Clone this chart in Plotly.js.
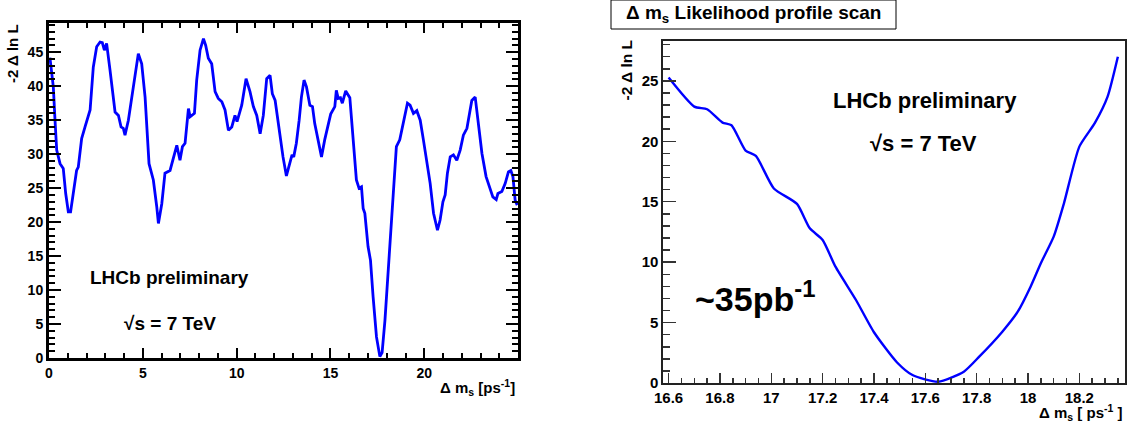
<!DOCTYPE html>
<html>
<head>
<meta charset="utf-8">
<script src="https://cdn.plot.ly/plotly-3.0.1.min.js"></script>
<style>html,body{margin:0;padding:0;background:#fff;}#plot{width:1129px;height:427px;}</style>
</head>
<body>
<div id="plot"></div>
<script>
// Left panel: full Delta m_s scan
const dmsLeft = [0.05,0.23,0.32,0.41,0.59,0.76,0.89,1.03,1.15,1.30,1.47,1.56,1.74,1.92,2.10,2.19,2.36,2.54,2.72,2.84,2.95,3.07,3.25,3.52,3.70,3.84,3.96,4.05,4.23,4.41,4.58,4.76,4.94,5.12,5.33,5.56,5.74,5.83,6.01,6.18,6.45,6.63,6.81,6.98,7.11,7.25,7.43,7.52,7.75,7.87,8.05,8.23,8.35,8.49,8.67,8.85,9.02,9.21,9.38,9.56,9.74,9.91,10.02,10.27,10.50,10.71,10.89,11.07,11.25,11.42,11.60,11.78,11.90,12.05,12.31,12.47,12.65,12.83,12.95,13.04,13.18,13.33,13.45,13.59,13.72,13.90,14.04,14.16,14.34,14.52,14.69,14.87,15.01,15.23,15.31,15.41,15.53,15.63,15.81,16.03,16.20,16.38,16.52,16.65,16.74,16.83,17.00,17.13,17.27,17.45,17.63,17.75,17.90,18.05,18.20,18.34,18.45,18.51,18.69,18.91,19.10,19.24,19.42,19.60,19.78,19.95,20.13,20.31,20.49,20.70,20.84,20.99,21.11,21.23,21.38,21.55,21.73,21.91,22.08,22.27,22.44,22.53,22.71,22.88,23.07,23.29,23.47,23.65,23.83,23.92,24.13,24.31,24.48,24.61,24.72,24.84,24.95];
const nllLeft = [44.2,39.9,35.0,30.6,28.6,27.9,24.2,21.5,21.5,24.7,27.6,28.1,32.3,34.0,35.5,36.5,42.8,45.8,46.5,46.4,45.3,46.3,42.4,36.2,35.7,34.0,33.8,32.8,35.0,38.4,41.4,44.8,43.3,38.4,28.6,26.2,22.3,19.8,22.7,27.2,27.6,29.6,31.3,29.1,31.1,31.6,36.7,35.5,36.0,40.9,45.3,47.0,46.0,44.1,43.3,39.2,38.2,37.7,36.5,33.5,34.0,35.7,34.8,37.2,41.1,39.2,37.0,35.7,33.0,35.7,41.1,41.6,38.9,37.9,32.5,29.6,26.8,28.6,29.9,29.6,31.6,35.0,38.4,40.9,39.9,37.2,37.0,34.5,31.8,29.6,32.1,34.0,35.9,37.0,39.4,38.2,38.3,37.5,39.3,38.3,32.5,26.2,25.0,25.2,22.0,21.3,16.4,14.4,9.0,3.1,0.2,0.8,5.5,12.0,18.5,24.2,28.0,31.1,32.1,35.0,37.5,37.2,36.0,36.4,35.0,32.1,29.1,25.7,21.3,18.8,20.3,23.0,24.0,27.2,29.6,29.9,29.1,30.6,32.8,33.8,36.5,37.9,38.4,34.5,30.1,26.7,25.2,23.7,23.3,24.2,24.5,25.7,27.4,27.6,26.7,23.2,22.5];

// Right panel: zoom around the minimum
const dmsRight = [16.60,16.70,16.75,16.81,16.845,16.90,16.94,17.01,17.10,17.15,17.20,17.25,17.33,17.40,17.49,17.55,17.65,17.75,17.81,17.90,17.96,18.01,18.05,18.10,18.14,18.20,18.26,18.31,18.35];
const nllRight = [25.27,22.87,22.65,21.55,21.33,19.23,18.79,16.1,14.82,12.8,11.84,9.63,6.87,4.2,1.7,0.66,0.11,0.94,2.18,4.25,5.9,7.97,9.91,12.11,14.87,19.56,21.5,23.7,27.0];

const yTitle = '-2 \u0394 ln L';
const xTitleLeft = '\u0394 m<sub>s</sub> [ps<sup>-1</sup>]';
const xTitleRight = '\u0394 m<sub>s</sub> [ ps<sup>-1</sup> ]';
const panelTitle = '\u0394 m<sub>s</sub> Likelihood profile scan';
const labelExp = 'LHCb preliminary';
const labelEnergy = '\u221As = 7 TeV';
const labelLumi = '~35pb<sup>-1</sup>';

const FONT = 'Liberation Sans, Arial, Helvetica, sans-serif';

const traces = [
  {x: dmsLeft, y: nllLeft, xaxis:'x', yaxis:'y', type:'scatter', mode:'lines',
   line:{color:'#0000ff', width:2.8}, hoverinfo:'skip'},
  {x: dmsRight, y: nllRight, xaxis:'x2', yaxis:'y2', type:'scatter', mode:'lines',
   line:{color:'#0000ff', width:2.4, shape:'spline', smoothing:0.6}, hoverinfo:'skip'}
];

function ax(extra){
  return Object.assign({
    showgrid:false, zeroline:false, showline:true, linecolor:'black',
    ticks:'inside', tickcolor:'black', fixedrange:true,
    tickfont:{family:FONT, size:14, color:'black', weight:'bold'}
  }, extra);
}

const layout = {
  width:1129, height:427,
  margin:{l:0, r:0, t:0, b:0},
  paper_bgcolor:'white', plot_bgcolor:'white',
  showlegend:false,
  font:{family:FONT, color:'black'},
  xaxis: ax({domain:[0.0434,0.4588], range:[0,24.99], anchor:'y', tick0:0, dtick:5,
    ticklen:10, tickwidth:2, linewidth:3, mirror:'allticks',
    minor:{dtick:1, ticks:'inside', ticklen:5, tickwidth:2, tickcolor:'black'}}),
  yaxis: ax({domain:[0.1616,0.9461], range:[0,49.3], anchor:'x', tick0:0, dtick:5,
    ticklen:12, tickwidth:2, linewidth:3, mirror:'allticks',
    minor:{dtick:1, ticks:'inside', ticklen:6, tickwidth:2, tickcolor:'black'}}),
  xaxis2: ax({domain:[0.5872,0.9965], range:[16.578,18.378], anchor:'y2', tick0:16.6, dtick:0.2,
    ticklen:10, tickwidth:1.5, linewidth:1.5, mirror:true, linecolor:'#222', tickcolor:'#333',
    tickfont:{family:FONT, size:15, color:'black', weight:'bold'},
    minor:{dtick:0.05, ticks:'inside', ticklen:5, tickwidth:1.5, tickcolor:'#333'}}),
  yaxis2: ax({domain:[0.103,0.904], range:[0,28.3], anchor:'x2', tick0:0, dtick:5,
    ticklen:13, tickwidth:1.5, linewidth:1.5, mirror:true, linecolor:'#222', tickcolor:'#333',
    tickfont:{family:FONT, size:15, color:'black', weight:'bold'},
    minor:{dtick:1, ticks:'inside', ticklen:7, tickwidth:1.5, tickcolor:'#333'}}),
  shapes:[
    {type:'rect', xref:'paper', yref:'paper', x0:611/1129, x1:896/1129, y0:(427-29)/427, y1:1.0,
     line:{color:'black', width:1}, fillcolor:'white', layer:'above'}
  ],
  annotations:[
    {text:'<b>'+panelTitle+'</b>', xref:'paper', yref:'paper', x:753.5/1129, y:(427-14)/427,
     xanchor:'center', yanchor:'middle', showarrow:false, font:{family:FONT, size:19, color:'black'}},
    {text:'<b>'+yTitle+'</b>', xref:'paper', yref:'paper', x:12/1129, y:(427-54)/427, textangle:-90,
     xanchor:'center', yanchor:'middle', showarrow:false, font:{family:FONT, size:15, color:'black'}},
    {text:'<b>'+yTitle+'</b>', xref:'paper', yref:'paper', x:626.5/1129, y:(427-70)/427, textangle:-90,
     xanchor:'center', yanchor:'middle', showarrow:false, font:{family:FONT, size:15.5, color:'black'}},
    {text:'<b>'+xTitleLeft+'</b>', xref:'paper', yref:'paper', x:517/1129, y:(427-387)/427,
     xanchor:'right', yanchor:'middle', showarrow:false, font:{family:FONT, size:15, color:'black'}},
    {text:'<b>'+xTitleRight+'</b>', xref:'paper', yref:'paper', x:1125/1129, y:(427-412)/427,
     xanchor:'right', yanchor:'middle', showarrow:false, font:{family:FONT, size:15, color:'black'}},
    {text:'<b>'+labelExp+'</b>', xref:'paper', yref:'paper', x:169/1129, y:(427-277)/427,
     xanchor:'center', yanchor:'middle', showarrow:false, font:{family:FONT, size:19, color:'black'}},
    {text:'<b>'+labelEnergy+'</b>', xref:'paper', yref:'paper', x:169.5/1129, y:(427-323)/427,
     xanchor:'center', yanchor:'middle', showarrow:false, font:{family:FONT, size:19, color:'black'}},
    {text:'<b>'+labelExp+'</b>', xref:'paper', yref:'paper', x:925/1129, y:(427-100)/427,
     xanchor:'center', yanchor:'middle', showarrow:false, font:{family:FONT, size:22, color:'black'}},
    {text:'<b>'+labelEnergy+'</b>', xref:'paper', yref:'paper', x:923/1129, y:(427-143)/427,
     xanchor:'center', yanchor:'middle', showarrow:false, font:{family:FONT, size:22, color:'black'}},
    {text:'<b>'+labelLumi+'</b>', xref:'paper', yref:'paper', x:755/1129, y:(427-296)/427,
     xanchor:'center', yanchor:'middle', showarrow:false, font:{family:FONT, size:34, color:'black'}}
  ]
};

Plotly.newPlot('plot', traces, layout, {staticPlot:true, displayModeBar:false});
</script>
</body>
</html>
